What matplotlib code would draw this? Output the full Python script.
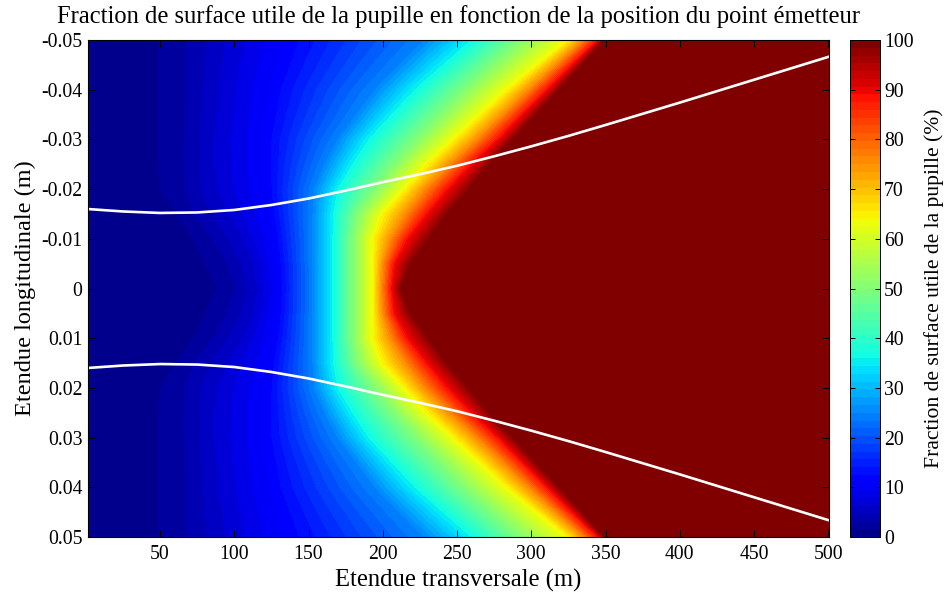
import numpy as np
import matplotlib
matplotlib.use("Agg")
import matplotlib.pyplot as plt
from matplotlib.cm import ScalarMappable
from matplotlib.colors import ListedColormap, Normalize

plt.rcParams['font.family'] = ['Liberation Serif', 'DejaVu Sans']

# distance from the axis (m), one row per entry; the picture is symmetric about 0
y_rows = [0, 0.005, 0.01, 0.015, 0.02, 0.025, 0.03, 0.04, 0.05]

# fraction (%) and the x position (m) where it is reached on each row
levels_pct = [1, 1.5, 3, 6, 11, 25, 36, 50, 64, 75, 89, 100, 100]
x_left = [1, 1, 1, 1, 1, 1, 1, 1, 1]
x_pct1 = [88, 80, 72, 60, 50, 48, 48, 48, 48]
x_pct3 = [100, 95, 85, 72, 66, 66, 66, 67, 67]
x_pct6 = [115, 112, 105, 95, 87, 85, 85, 88, 92]
x_pct11 = [130, 129, 127, 124, 122, 121, 120, 124, 134]
x_pct25 = [153, 153, 153, 153, 154, 161, 170, 195, 228]
x_pct36 = [166.5, 166.5, 166.5, 167, 170, 180, 191, 222, 260]
x_pct50 = [180, 180, 180, 183, 195, 208, 223, 255, 293]
x_pct64 = [193.5, 193.5, 193.5, 200, 215, 230, 248, 284, 325]
x_pct75 = [199, 200, 205, 215, 228, 245, 263, 298, 335]
x_pct89 = [206, 208, 217, 230, 244, 260, 278, 311, 345]
x_pct100 = [212.6, 220, 233, 245, 260, 273, 289, 320, 350]
x_right = [501, 501, 501, 501, 501, 501, 501, 501, 501]

# white curve, lower branch (upper one is its mirror)
curve_x = [1, 25, 50, 75, 100, 125, 150, 175, 200, 225, 250, 275, 300, 325, 350, 400, 450, 500]
curve_y = [0.0160, 0.0155, 0.0152, 0.0153, 0.0158, 0.0168, 0.0181, 0.0197, 0.0214, 0.0230,
           0.0247, 0.0266, 0.0286, 0.0307, 0.0329, 0.0374, 0.0420, 0.0466]

xticks = [50, 100, 150, 200, 250, 300, 350, 400, 450, 500]
yticks = [-0.05, -0.04, -0.03, -0.02, -0.01, 0, 0.01, 0.02, 0.03, 0.04, 0.05]
yticklabels = ['-0.05', '-0.04', '-0.03', '-0.02', '-0.01', '0', '0.01', '0.02', '0.03', '0.04', '0.05']

half_x = np.array([x_left, x_pct1, x_pct3, x_pct6, x_pct11, x_pct25, x_pct36, x_pct50,
                   x_pct64, x_pct75, x_pct89, x_pct100, x_right], dtype=float).T
rows = np.array(y_rows)
X = np.vstack([half_x[::-1], half_x[1:]])
yy = np.concatenate([-rows[::-1], rows[1:]])
Y = np.tile(yy[:, None], (1, len(levels_pct)))
Z = np.tile(np.array(levels_pct, dtype=float), (len(yy), 1))

# 64 step jet, starting a bit lighter like the matlab one
cmap = ListedColormap(plt.get_cmap('jet')(np.linspace(0.014, 1, 64)))

fig = plt.figure(figsize=(9.44, 5.93), dpi=100)
ax = fig.add_axes([88 / 944, 1 - 537 / 593, 741 / 944, 497 / 593])
ax.contourf(X, Y, Z, levels=np.linspace(0, 100, 65), cmap=cmap, vmin=0, vmax=100)
ax.plot(curve_x, curve_y, color='white', lw=1.9)
ax.plot(curve_x, -np.array(curve_y), color='white', lw=1.9)

ax.set_xlim(1.5, 500.5)
ax.set_ylim(0.05, -0.05)
ax.set_xticks(xticks)
ax.set_yticks(yticks)
ax.set_yticklabels(yticklabels)
ax.tick_params(direction='in', top=True, right=True, labelsize=14.2, length=5, width=0.7)
ax.tick_params(axis='x', pad=6)
ax.tick_params(axis='y', pad=4)
ax.set_xlabel('Etendue transversale (m)', fontsize=17.7, labelpad=3)
ax.set_ylabel('Etendue longitudinale (m)', fontsize=17.5, labelpad=4)
ax.set_title("Fraction de surface utile de la pupille en fonction de la position du point émetteur",
             fontsize=17.7, pad=12)

cax = fig.add_axes([850 / 944, 1 - 537 / 593, 30 / 944, 497 / 593])
cb = fig.colorbar(ScalarMappable(norm=Normalize(0, 100), cmap=cmap), cax=cax)
cb.set_ticks(range(0, 101, 10))
cb.ax.tick_params(direction='in', left=True, right=True, labelsize=14.2, length=3.6, width=0.7, pad=3)
cb.set_label('Fraction de surface utile de la pupille (%)', fontsize=15.6, labelpad=7.5)
cb.outline.set_linewidth(0.7)

fig.savefig('out.png', dpi=100)
